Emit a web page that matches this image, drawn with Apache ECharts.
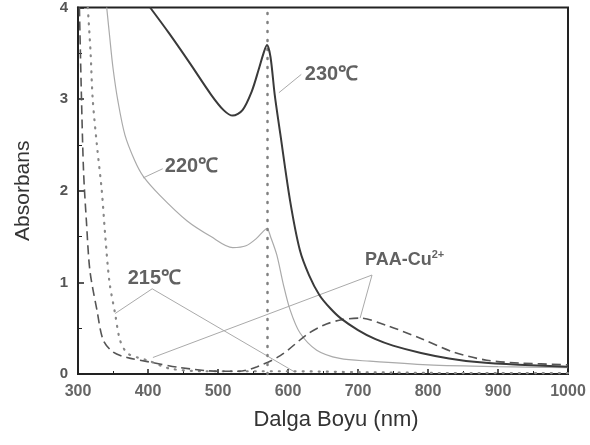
<!DOCTYPE html>
<html>
<head>
<meta charset="utf-8">
<script src="https://cdn.jsdelivr.net/npm/echarts@6/dist/echarts.min.js"></script>
<style>html,body{margin:0;padding:0;background:#fff}#c{width:590px;height:445px}</style>
</head>
<body>
<div id="c"></div>
<script>
// Wavelength (nm) and absorbance values
var wl230 = [403, 430, 460, 490, 508, 521, 535, 548, 558, 565, 570, 575, 581, 589, 603, 617, 630, 645, 660, 675, 700, 725, 750, 790, 830, 870, 930, 1000];
var abs230 = [4.0, 3.72, 3.39, 3.05, 2.88, 2.82, 2.88, 3.08, 3.32, 3.50, 3.59, 3.46, 3.05, 2.62, 1.89, 1.35, 1.08, 0.86, 0.72, 0.61, 0.48, 0.38, 0.31, 0.23, 0.17, 0.13, 0.10, 0.08];

var wl220 = [341, 345, 350, 357, 367, 381, 393, 417, 456, 490, 521, 540, 555, 565, 570, 575, 584, 593, 603, 617, 641, 674, 717, 800, 900, 1000];
var abs220 = [4.0, 3.7, 3.34, 2.98, 2.61, 2.33, 2.16, 1.95, 1.67, 1.5, 1.38, 1.40, 1.48, 1.56, 1.59, 1.50, 1.30, 0.99, 0.70, 0.45, 0.26, 0.17, 0.14, 0.10, 0.08, 0.07];

var wl215 = [314, 318, 321, 327, 334, 339, 345, 353, 360, 370, 385, 399, 431, 480, 540, 600, 700, 850, 1000];
var abs215 = [4.0, 3.5, 3.0, 2.5, 2.0, 1.5, 1.0, 0.66, 0.37, 0.23, 0.18, 0.15, 0.06, 0.03, 0.03, 0.03, 0.02, 0.01, 0.01];

var wlPAA = [302, 305, 308, 312, 317, 327, 336, 350, 370, 403, 446, 500, 530, 556, 589, 627, 650, 675, 703, 741, 789, 836, 884, 931, 1000];
var absPAA = [4.0, 3.0, 2.2, 1.67, 1.13, 0.70, 0.37, 0.24, 0.18, 0.13, 0.07, 0.03, 0.03, 0.08, 0.20, 0.43, 0.53, 0.59, 0.61, 0.53, 0.39, 0.24, 0.15, 0.12, 0.10];

// Reference wavelength marker
var refWavelengths = [570];

// Axis ticks
var xTicks = [300, 400, 500, 600, 700, 800, 900, 1000];
var yTicks = [0, 1, 2, 3, 4];

// Curve labels and their leader lines (data units)
var labelNames = ['{t|230℃}', '{t|220℃}', '{t|215℃}', '{p|PAA-Cu}{s|2+}'];
var labelAnchors = [[624, 3.27], [424, 2.27], [371, 1.04], [710, 1.24]];
var leaderLines = [
  [[587, 3.07], [619, 3.27]],
  [[393, 2.14], [421, 2.24]],
  [[353, 0.66], [406, 0.93]],
  [[406, 0.93], [610, 0.02]],
  [[407, 0.18], [720, 1.08]],
  [[720, 1.08], [703, 0.61]]
];

function zip(a, b) { return a.map(function (v, i) { return [v, b[i]]; }); }

var chart = echarts.init(document.getElementById('c'), null, { renderer: 'canvas' });
var font = 'Liberation Sans, Arial, sans-serif';

chart.setOption({
  animation: false,
  backgroundColor: '#fff',
  grid: { left: 78, right: 22, top: 6, bottom: 71, show: true, borderColor: '#222', borderWidth: 2, backgroundColor: 'transparent' },
  xAxis: {
    type: 'value', min: xTicks[0], max: xTicks[xTicks.length - 1], interval: 100,
    name: 'Dalga Boyu (nm)', nameLocation: 'middle', nameGap: 35,
    nameTextStyle: { fontFamily: font, fontSize: 22, color: '#333', padding: [0, 0, 0, 26] },
    axisLine: { lineStyle: { color: '#222', width: 2 } },
    axisTick: { inside: true, length: 5, lineStyle: { color: '#222', width: 1.5 } },
    minorTick: { show: true, splitNumber: 2, length: 3, lineStyle: { color: '#222' } },
    splitLine: { show: false },
    axisLabel: { fontFamily: font, fontSize: 16, color: '#666', fontWeight: 'bold', margin: 10, formatter: function (v) { return String(v); } }
  },
  yAxis: {
    type: 'value', min: yTicks[0], max: yTicks[yTicks.length - 1], interval: 1,
    name: 'Absorbans', nameLocation: 'middle', nameGap: 44, nameRotate: 90,
    nameTextStyle: { fontFamily: font, fontSize: 21, color: '#333' },
    axisLine: { lineStyle: { color: '#222', width: 2 } },
    axisTick: { inside: true, length: 6, lineStyle: { color: '#222', width: 1.5 } },
    minorTick: { show: true, splitNumber: 2, length: 4, lineStyle: { color: '#222' } },
    splitLine: { show: false },
    axisLabel: { fontFamily: font, fontSize: 15, color: '#555', fontWeight: 'bold', margin: 10 }
  },
  series: [
    {
      name: '230', type: 'line', data: zip(wl230, abs230), showSymbol: false, smooth: 0.3,
      lineStyle: { color: '#3a3a3a', width: 2 }, z: 5
    },
    {
      name: '220', type: 'line', data: zip(wl220, abs220), showSymbol: false, smooth: 0.3,
      lineStyle: { color: '#aaa', width: 1.2 }, z: 4
    },
    {
      name: '215', type: 'line', data: zip(wl215, abs215), showSymbol: false, smooth: 0.3,
      lineStyle: { color: '#888', width: 2.2, type: [1, 7], cap: 'round' }, z: 4,
      markLine: {
        silent: true, symbol: ['none', 'none'], label: { show: false },
        lineStyle: { color: '#808080', width: 2.5, type: [1, 8], cap: 'round' },
        data: refWavelengths.map(function (v) { return { xAxis: v }; })
      }
    },
    {
      name: 'PAA', type: 'line', data: zip(wlPAA, absPAA), showSymbol: false, smooth: 0.3,
      lineStyle: { color: '#555', width: 1.6, type: [9, 5] }, z: 4
    },
    {
      name: 'leaders', type: 'lines', coordinateSystem: 'cartesian2d', silent: true,
      lineStyle: { color: '#aaa', width: 1, opacity: 1 },
      data: leaderLines.map(function (c) { return { coords: c }; }), z: 3
    },
    {
      name: 'labels', type: 'scatter', symbolSize: 0, silent: true,
      data: labelAnchors.map(function (p, i) { return { value: p, name: labelNames[i] }; }),
      label: {
        show: true, position: [0, 0], align: 'left', verticalAlign: 'middle',
        formatter: function (p) { return p.name; },
        fontFamily: font, fontSize: 19, color: '#3a3a3a', fontWeight: 'bold',
        rich: {
          t: { fontFamily: font, fontSize: 20, color: '#3a3a3a', fontWeight: 'bold' },
          p: { fontFamily: font, fontSize: 18, color: '#3a3a3a', fontWeight: 'bold' },
          s: { fontFamily: font, fontSize: 11, color: '#3a3a3a', fontWeight: 'bold', verticalAlign: 'top', padding: [0, 0, 10, 0] }
        }
      },
      z: 6
    }
  ]
});
</script>
</body>
</html>
